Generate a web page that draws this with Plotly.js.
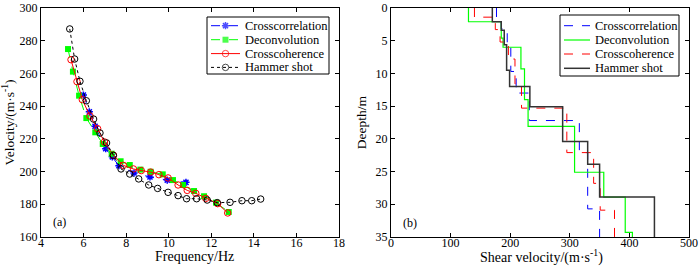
<!DOCTYPE html>
<html>
<head>
<meta charset="utf-8">
<script src="https://cdn.plot.ly/plotly-3.0.1.min.js"></script>
<style>
  html, body { margin: 0; padding: 0; background: #fff; }
  #chart { width: 700px; height: 269px; }
</style>
</head>
<body>
<div id="chart"></div>
<script>
// ---------- Panel (a): dispersion curves ----------
const ccFreq = [5.99, 6.27, 6.54, 7.04, 7.35, 7.66, 8.37, 9.12, 9.93, 10.81];
const ccVel  = [246.8, 236.5, 227.7, 214.0, 209.0, 203.6, 199.1, 196.7, 194.8, 193.4];

const dcFreq = [5.27, 5.50, 5.79, 6.13, 6.55, 6.90, 7.32, 7.74, 8.17, 8.67, 9.15, 9.72, 10.20, 10.67, 11.19, 11.66, 12.22, 12.82];
const dcVel  = [274.9, 261.1, 246.4, 232.7, 224.0, 216.9, 210.9, 206.3, 204.0, 201.2, 199.9, 198.3, 194.8, 191.8, 188.1, 184.9, 181.0, 175.3];

const chFreq = [5.41, 5.69, 5.94, 6.30, 6.66, 6.98, 7.40, 7.87, 8.34, 8.71, 9.15, 9.54, 9.97, 10.44, 10.87, 11.27, 11.74, 12.30, 12.77];
const chVel  = [268.4, 255.0, 244.0, 234.0, 226.2, 218.1, 210.0, 203.8, 201.6, 200.6, 199.7, 198.1, 196.1, 191.8, 188.5, 186.7, 183.6, 180.4, 174.7];

const hsFreq = [5.35, 5.58, 5.83, 6.13, 6.47, 6.77, 7.08, 7.40, 7.76, 8.17, 8.59, 9.06, 9.48, 9.97, 10.44, 10.84, 11.31, 11.81, 12.28, 12.88, 13.44, 13.90, 14.32];
const hsVel  = [287.2, 268.8, 255.2, 243.3, 232.1, 223.6, 217.5, 209.9, 201.6, 198.5, 195.5, 191.8, 189.7, 187.3, 185.3, 183.4, 183.4, 182.6, 181.0, 181.2, 182.2, 182.2, 183.2];

// ---------- Panel (b): shear-velocity profiles (layer tops in m, velocity in m/s) ----------
const ccDepth = [0, 2.1, 3.2, 5.8, 9.7, 13.0, 17.2, 22.1, 30.7, 35];
const ccVs    = [177, 185, 195, 201, 210, 232, 316, 330, 350, 350];

const dcDepth = [0, 2.1, 4.6, 6.0, 9.3, 14.0, 18.1, 25.1, 28.9, 34.3, 35];
const dcVs    = [130, 185, 188, 218, 224, 230, 308, 357, 393, 405, 405];

const chDepth = [0, 1.4, 3.3, 5.2, 7.8, 11.6, 15.3, 22.1, 26.8, 30.9, 35];
const chVs    = [140, 175, 183, 197, 208, 219, 295, 340, 351, 375, 375];

const hsDepth = [0, 2.1, 3.4, 5.6, 9.5, 12.0, 15.1, 20.4, 23.9, 28.9, 35];
const hsVs    = [170, 185, 190, 194, 199, 233, 288, 330, 350, 442, 442];

const seriesNames = ['Crosscorrelation', 'Deconvolution', 'Crosscoherence', 'Hammer shot'];
const freqTicks = [4, 6, 8, 10, 12, 14, 16, 18];
const velTicks = [160, 180, 200, 220, 240, 260, 280, 300];
const vsTicks = [0, 100, 200, 300, 400, 500];
const depthTicks = [0, 5, 10, 15, 20, 25, 30, 35];

// ---------- styles ----------
const FONT = 'Liberation Serif, Times New Roman, serif';
const styleA = [
  { line: { color: '#0000ff', width: 1, dash: 'dash' },
    marker: { symbol: 'asterisk-open', size: 6, color: '#0000ff', line: { color: '#0000ff', width: 1.5 } } },
  { line: { color: '#00ff00', width: 1, dash: 'dash' },
    marker: { symbol: 'square', size: 6, color: '#00ff00', line: { width: 0 } } },
  { line: { color: '#ff0000', width: 1 },
    marker: { symbol: 'circle-open', size: 6.5, color: '#ff0000', line: { color: '#ff0000', width: 1 } } },
  { line: { color: '#000000', width: 1, dash: 'dot' },
    marker: { symbol: 'circle-open', size: 6.5, color: '#000000', line: { color: '#000000', width: 1 } } }
];
const styleB = [
  { line: { color: '#0000ff', width: 1, dash: 'dash' } },
  { line: { color: '#00ff00', width: 1.2 } },
  { line: { color: '#ff0000', width: 1, dash: 'dash' } },
  { line: { color: '#333333', width: 1.5 } }
];

const panelA = [[ccFreq, ccVel], [dcFreq, dcVel], [chFreq, chVel], [hsFreq, hsVel]];
const panelB = [[ccVs, ccDepth], [dcVs, dcDepth], [chVs, chDepth], [hsVs, hsDepth]];

const traces = [];
panelA.forEach((d, i) => traces.push({
  x: d[0], y: d[1], name: seriesNames[i], xaxis: 'x', yaxis: 'y', showlegend: false,
  mode: 'lines+markers', line: styleA[i].line, marker: styleA[i].marker, hoverinfo: 'skip'
}));
panelB.forEach((d, i) => traces.push({
  x: d[0], y: d[1], name: seriesNames[i], xaxis: 'x2', yaxis: 'y2', showlegend: false,
  mode: 'lines', line: Object.assign({ shape: 'vh' }, styleB[i].line), hoverinfo: 'skip'
}));

// ---------- legend keys (drawn on a pixel-unit overlay axis) ----------
const legendBoxes = [
  { box: [207, 17, 329, 74], rows: [25.7, 39.7, 53.6, 67.4], line: [211, 240], text: 243, style: styleA, markers: true },
  { box: [560, 15, 679, 76], rows: [25.7, 40.0, 54.0, 68.3], line: [564, 590], text: 593, style: styleB, markers: false }
];
const shapes = [];
const annotations = [];
legendBoxes.forEach(lg => {
  shapes.push({ type: 'rect', xref: 'x3', yref: 'y3', layer: 'below',
    x0: lg.box[0], y0: lg.box[1], x1: lg.box[2], y1: lg.box[3],
    line: { color: '#000', width: 1 }, fillcolor: '#fff' });
  seriesNames.forEach((name, i) => {
    const yy = lg.rows[i];
    const xm = (lg.line[0] + lg.line[1]) / 2;
    const tr = {
      x: [lg.line[0], xm, lg.line[1]], y: [yy, yy, yy], xaxis: 'x3', yaxis: 'y3',
      showlegend: false, hoverinfo: 'skip',
      mode: lg.markers ? 'lines+markers' : 'lines',
      line: Object.assign({}, lg.style[i].line)
    };
    if (lg.markers) {
      tr.marker = Object.assign({}, lg.style[i].marker, { size: [0, lg.style[i].marker.size, 0] });
    }
    traces.push(tr);
    annotations.push({ text: name, xref: 'x3', yref: 'y3', x: lg.text, y: yy,
      xanchor: 'left', yanchor: 'middle', showarrow: false,
      font: { family: FONT, size: 12.5, color: '#000' } });
  });
});

// axis titles (x) and panel tags
annotations.push(
  { text: 'Frequency/Hz', xref: 'x3', yref: 'y3', x: 194, y: 256, showarrow: false,
    xanchor: 'center', yanchor: 'middle', font: { family: FONT, size: 14, color: '#000' } },
  { text: 'Shear velocity/(m·s<sup>-1</sup>)', xref: 'x3', yref: 'y3', x: 541, y: 256, showarrow: false,
    xanchor: 'center', yanchor: 'middle', font: { family: FONT, size: 14, color: '#000' } },
  { text: '(a)', xref: 'x', yref: 'y', x: 4.89, y: 169, showarrow: false,
    font: { family: FONT, size: 12, color: '#000' } },
  { text: '(b)', xref: 'x2', yref: 'y2', x: 32, y: 32.8, showarrow: false,
    font: { family: FONT, size: 12, color: '#000' } }
);

const axBase = {
  showline: true, linecolor: '#000', linewidth: 1, mirror: 'allticks',
  ticks: 'inside', ticklen: 4, tickcolor: '#000', tickwidth: 1,
  showgrid: false, zeroline: false, fixedrange: true, automargin: false,
  tickfont: { family: FONT, size: 12, color: '#000' }
};

const yBottom = (269 - 237) / 269, yTop = (269 - 8) / 269;

const layout = {
  width: 700, height: 269,
  margin: { l: 0, r: 0, t: 0, b: 0 },
  paper_bgcolor: '#fff', plot_bgcolor: 'rgba(0,0,0,0)',
  font: { family: FONT, size: 12, color: '#000' },
  xaxis: Object.assign({}, axBase, {
    anchor: 'y', domain: [41 / 700, 339 / 700], range: [4, 18], tickvals: freqTicks, ticklabelstandoff: -5
  }),
  yaxis: Object.assign({}, axBase, {
    anchor: 'x', domain: [yBottom, yTop], range: [160, 300], tickvals: velTicks,
    title: { text: 'Velocity/(m·s<sup>-1</sup>)', font: { family: FONT, size: 13.5 }, standoff: 5 }
  }),
  xaxis2: Object.assign({}, axBase, {
    anchor: 'y2', domain: [391 / 700, 689 / 700], range: [0, 500], tickvals: vsTicks, ticklabelstandoff: -5
  }),
  yaxis2: Object.assign({}, axBase, {
    anchor: 'x2', domain: [yBottom, yTop], range: [35, 0], tickvals: depthTicks,
    title: { text: 'Deepth/m', font: { family: FONT, size: 13.5 }, standoff: 5 }
  }),
  xaxis3: { anchor: 'y3', domain: [0, 1], range: [0, 700], visible: false, fixedrange: true },
  yaxis3: { anchor: 'x3', domain: [0, 1], range: [269, 0], visible: false, fixedrange: true },
  shapes: shapes,
  annotations: annotations,
  showlegend: false
};

Plotly.newPlot('chart', traces, layout, { displayModeBar: false, staticPlot: true });
</script>
</body>
</html>
